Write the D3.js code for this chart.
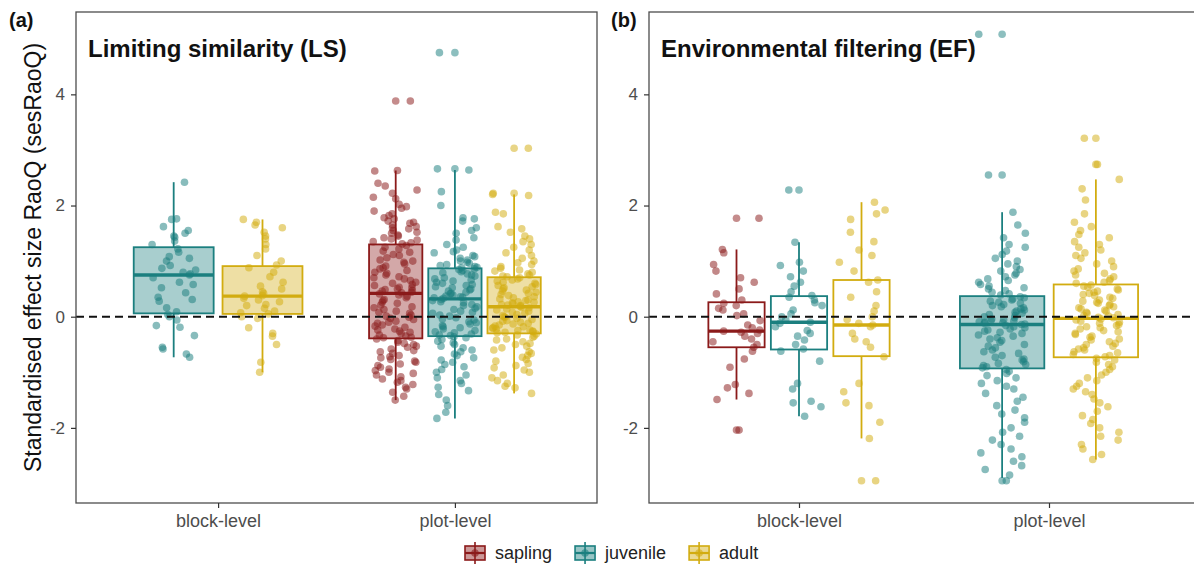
<!DOCTYPE html>
<html><head><meta charset="utf-8">
<script src="https://cdn.jsdelivr.net/npm/d3@7"></script>
<style>body{margin:0;background:#fff}svg{display:block;font-family:"Liberation Sans",Arial,sans-serif}</style>
</head><body><svg id="chart" width="1194" height="569"></svg>
<script>
// ---------------- data ----------------
const categories = ["block-level", "plot-level"];
const stages = ["sapling", "juvenile", "adult"];
const panelTitles = ["Limiting similarity (LS)", "Environmental filtering (EF)"];
const panelTags = ["(a)", "(b)"];
const yTicks = [-2, 0, 2, 4];
const yLabel = "Standardised effect size RaoQ (sesRaoQ)";

// Limiting similarity (LS)
const lsBlockJuvenile = [2.42, 1.76, 1.75, 1.62, 1.55, 1.5, 1.45, 1.43, 1.36, 1.3, 1.22, 1.16, 1.08, 1.05, 1.0, 0.92, 0.87, 0.84, 0.8, 0.77, 0.75, 0.7, 0.62, 0.58, 0.52, 0.43, 0.35, 0.31, 0.28, 0.16, 0.09, 0.04, 0.0, -0.06, -0.16, -0.19, -0.34, -0.55, -0.58, -0.67, -0.73];
const lsBlockAdult = [1.75, 1.7, 1.65, 1.6, 1.52, 1.45, 1.4, 1.3, 1.22, 1.1, 1.0, 0.93, 0.88, 0.8, 0.72, 0.62, 0.55, 0.5, 0.45, 0.42, 0.38, 0.37, 0.33, 0.3, 0.27, 0.22, 0.2, 0.15, 0.1, 0.07, 0.05, 0.0, -0.03, -0.2, -0.3, -0.35, -0.5, -0.82, -1.0];
const lsPlotSapling = [3.88, 2.63, 2.62, 2.4, 2.35, 2.28, 2.22, 2.15, 2.12, 2.02, 1.98, 1.95, 1.9, 1.85, 1.82, 1.78, 1.76, 1.72, 1.7, 1.68, 1.65, 1.62, 1.6, 1.58, 1.55, 1.52, 1.5, 1.47, 1.45, 1.42, 1.4, 1.38, 1.35, 1.33, 1.31,
  1.28, 1.25, 1.22, 1.18, 1.16, 1.12, 1.1, 1.06, 1.02, 1.0, 0.98, 0.95, 0.91, 0.88, 0.86, 0.83, 0.8, 0.78, 0.75, 0.72, 0.7, 0.68, 0.65, 0.62, 0.6, 0.58, 0.56, 0.53, 0.52, 0.5, 0.49, 0.47, 0.46, 0.44, 0.43,
  0.41, 0.39, 0.37, 0.34, 0.31, 0.29, 0.26, 0.24, 0.21, 0.18, 0.16, 0.13, 0.1, 0.08, 0.06, 0.03, 0.01, -0.01, -0.03, -0.05, -0.08, -0.1, -0.12, -0.15, -0.17, -0.19, -0.22, -0.24, -0.26, -0.28, -0.3, -0.33, -0.35, -0.37, -0.38,
  -0.4, -0.43, -0.46, -0.48, -0.5, -0.53, -0.55, -0.58, -0.61, -0.63, -0.66, -0.7, -0.72, -0.74, -0.77, -0.8, -0.82, -0.85, -0.88, -0.91, -0.94, -0.97, -1.0, -1.02, -1.05, -1.08, -1.12, -1.15, -1.18, -1.22, -1.27, -1.3, -1.36, -1.43, -1.5];
const lsPlotJuvenile = [4.75, 2.66, 2.64, 2.25, 2.0, 1.78, 1.76, 1.72, 1.6, 1.55, 1.5, 1.42, 1.38, 1.3, 1.25, 1.2, 1.17, 1.15, 1.1, 1.08, 1.05, 1.02, 1.0, 0.98, 0.96, 0.94, 0.92, 0.9, 0.89, 0.88,
  0.86, 0.85, 0.83, 0.81, 0.79, 0.77, 0.75, 0.73, 0.7, 0.68, 0.66, 0.64, 0.62, 0.6, 0.58, 0.56, 0.54, 0.52, 0.5, 0.48, 0.46, 0.44, 0.42, 0.41, 0.39, 0.37, 0.36, 0.35, 0.34, 0.33,
  0.31, 0.29, 0.27, 0.25, 0.22, 0.2, 0.18, 0.15, 0.13, 0.1, 0.08, 0.06, 0.03, 0.01, -0.02, -0.04, -0.06, -0.09, -0.11, -0.13, -0.16, -0.18, -0.2, -0.22, -0.25, -0.27, -0.29, -0.31, -0.33, -0.34,
  -0.36, -0.38, -0.41, -0.44, -0.47, -0.5, -0.53, -0.56, -0.6, -0.63, -0.67, -0.7, -0.74, -0.78, -0.82, -0.86, -0.9, -0.95, -1.0, -1.05, -1.1, -1.15, -1.2, -1.27, -1.33, -1.4, -1.5, -1.6, -1.72, -1.83];
const lsPlotAdult = [3.03, 2.22, 2.2, 2.18, 1.88, 1.85, 1.62, 1.58, 1.52, 1.45, 1.4, 1.35, 1.3, 1.25, 1.2, 1.15, 1.1, 1.05, 1.0, 0.97, 0.94, 0.9, 0.87, 0.84, 0.82, 0.8, 0.77, 0.75, 0.73, 0.72,
  0.7, 0.68, 0.66, 0.64, 0.62, 0.6, 0.58, 0.56, 0.54, 0.52, 0.5, 0.48, 0.46, 0.44, 0.42, 0.4, 0.38, 0.36, 0.34, 0.32, 0.3, 0.29, 0.27, 0.26, 0.25, 0.23, 0.22, 0.21, 0.2, 0.19,
  0.17, 0.16, 0.14, 0.12, 0.1, 0.08, 0.06, 0.04, 0.02, 0.0, -0.01, -0.03, -0.05, -0.07, -0.08, -0.1, -0.12, -0.13, -0.15, -0.17, -0.18, -0.2, -0.21, -0.22, -0.24, -0.25, -0.26, -0.27, -0.28, -0.29,
  -0.31, -0.33, -0.35, -0.37, -0.4, -0.42, -0.45, -0.48, -0.5, -0.53, -0.56, -0.6, -0.63, -0.66, -0.7, -0.73, -0.77, -0.8, -0.84, -0.88, -0.92, -0.96, -1.0, -1.05, -1.1, -1.15, -1.2, -1.25, -1.28, -1.38];

// Environmental filtering (EF)
const efBlockSapling = [1.77, 1.21, 1.15, 0.94, 0.82, 0.7, 0.62, 0.5, 0.41, 0.3, 0.24, 0.2, 0.15, 0.12, 0.05, 0.02, -0.07, -0.15, -0.2, -0.24, -0.26, -0.28, -0.3, -0.35, -0.4, -0.45, -0.5, -0.55, -0.62, -0.76, -0.91, -1.22, -1.28, -1.38, -1.49, -2.04];
const efBlockJuvenile = [2.28, 1.34, 0.98, 0.92, 0.82, 0.72, 0.62, 0.55, 0.45, 0.38, 0.35, 0.3, 0.25, 0.2, 0.12, 0.05, 0.0, -0.05, -0.1, -0.12, -0.18, -0.25, -0.3, -0.35, -0.42, -0.5, -0.58, -0.62, -0.8, -1.2, -1.3, -1.52, -1.55, -1.62, -1.79];
const efBlockAdult = [2.06, 1.92, 1.85, 1.75, 1.52, 1.35, 1.2, 1.1, 0.98, 0.82, 0.66, 0.62, 0.45, 0.35, 0.2, 0.1, 0.0, -0.05, -0.12, -0.15, -0.18, -0.3, -0.4, -0.45, -0.55, -0.72, -1.2, -1.35, -1.55, -1.6, -1.9, -2.19, -2.95];
const efPlotJuvenile = [5.08, 2.55, 1.88, 1.65, 1.5, 1.42, 1.3, 1.25, 1.18, 1.12, 1.05, 1.0, 0.95, 0.9, 0.85, 0.82, 0.78, 0.75, 0.72, 0.68, 0.65, 0.62, 0.58, 0.55, 0.52, 0.5, 0.47, 0.44, 0.41, 0.39,
  0.36, 0.34, 0.32, 0.3, 0.28, 0.26, 0.24, 0.22, 0.2, 0.18, 0.16, 0.14, 0.12, 0.1, 0.08, 0.06, 0.04, 0.02, 0.0, -0.02, -0.04, -0.05, -0.07, -0.08, -0.09, -0.1, -0.11, -0.12, -0.13, -0.14,
  -0.16, -0.18, -0.2, -0.22, -0.24, -0.26, -0.28, -0.3, -0.33, -0.35, -0.38, -0.4, -0.43, -0.46, -0.5, -0.53, -0.56, -0.6, -0.63, -0.66, -0.7, -0.73, -0.76, -0.78, -0.81, -0.84, -0.86, -0.88, -0.9, -0.92,
  -0.95, -0.98, -1.02, -1.06, -1.1, -1.15, -1.2, -1.25, -1.3, -1.38, -1.45, -1.52, -1.6, -1.68, -1.75, -1.82, -1.9, -2.0, -2.08, -2.15, -2.22, -2.3, -2.38, -2.45, -2.52, -2.6, -2.68, -2.75, -2.85, -2.95];
const efPlotAdult = [3.21, 2.74, 2.47, 2.3, 2.1, 1.85, 1.7, 1.62, 1.55, 1.48, 1.42, 1.35, 1.3, 1.25, 1.2, 1.15, 1.1, 1.05, 1.0, 0.95, 0.9, 0.86, 0.82, 0.78, 0.75, 0.72, 0.68, 0.65, 0.62, 0.6,
  0.57, 0.55, 0.53, 0.5, 0.48, 0.46, 0.44, 0.42, 0.4, 0.38, 0.35, 0.33, 0.3, 0.28, 0.26, 0.24, 0.22, 0.2, 0.18, 0.16, 0.14, 0.12, 0.1, 0.08, 0.06, 0.04, 0.02, 0.01, -0.01, -0.02,
  -0.04, -0.06, -0.08, -0.1, -0.12, -0.14, -0.16, -0.18, -0.2, -0.22, -0.25, -0.27, -0.3, -0.32, -0.35, -0.37, -0.4, -0.42, -0.45, -0.48, -0.5, -0.53, -0.56, -0.58, -0.6, -0.63, -0.65, -0.68, -0.7, -0.72,
  -0.75, -0.78, -0.82, -0.86, -0.9, -0.95, -1.0, -1.05, -1.1, -1.15, -1.2, -1.25, -1.3, -1.35, -1.4, -1.48, -1.55, -1.62, -1.7, -1.78, -1.85, -1.92, -2.0, -2.08, -2.15, -2.22, -2.3, -2.38, -2.48, -2.57];

// box statistics: [lower whisker, Q1, median, Q3, upper whisker]
const lsBlockJuvenileBox = [-0.73, 0.06, 0.75, 1.25, 2.42];
const lsBlockAdultBox = [-1.0, 0.05, 0.37, 0.91, 1.75];
const lsPlotSaplingBox = [-1.5, -0.39, 0.42, 1.3, 2.63];
const lsPlotJuvenileBox = [-1.83, -0.35, 0.32, 0.87, 2.64];
const lsPlotAdultBox = [-1.38, -0.3, 0.18, 0.71, 2.2];
const efBlockSaplingBox = [-1.49, -0.55, -0.26, 0.26, 1.21];
const efBlockJuvenileBox = [-1.79, -0.59, -0.1, 0.37, 1.34];
const efBlockAdultBox = [-2.19, -0.71, -0.15, 0.66, 2.06];
const efPlotJuvenileBox = [-2.9, -0.93, -0.14, 0.37, 1.88];
const efPlotAdultBox = [-2.57, -0.73, -0.03, 0.58, 2.47];

// which boxes are shaded
const lsFilled = [true, true, true, true, true];
const efFilled = [false, false, false, true, false];

// ---------------- styling & layout ----------------
const colors = {sapling: "#8b1a1a", juvenile: "#1b7f7f", adult: "#d2ac10"};
const panelBoxes = [{l: 76, r: 597}, {l: 649, r: 1199}];
const pTop = 12, pBottom = 503;

const groups = [
  {panel: 0, cat: "block-level", stage: "juvenile", values: lsBlockJuvenile, box: lsBlockJuvenileBox, filled: lsFilled[0]},
  {panel: 0, cat: "block-level", stage: "adult", values: lsBlockAdult, box: lsBlockAdultBox, filled: lsFilled[1]},
  {panel: 0, cat: "plot-level", stage: "sapling", values: lsPlotSapling, box: lsPlotSaplingBox, filled: lsFilled[2]},
  {panel: 0, cat: "plot-level", stage: "juvenile", values: lsPlotJuvenile, box: lsPlotJuvenileBox, filled: lsFilled[3]},
  {panel: 0, cat: "plot-level", stage: "adult", values: lsPlotAdult, box: lsPlotAdultBox, filled: lsFilled[4]},
  {panel: 1, cat: "block-level", stage: "sapling", values: efBlockSapling, box: efBlockSaplingBox, filled: efFilled[0]},
  {panel: 1, cat: "block-level", stage: "juvenile", values: efBlockJuvenile, box: efBlockJuvenileBox, filled: efFilled[1]},
  {panel: 1, cat: "block-level", stage: "adult", values: efBlockAdult, box: efBlockAdultBox, filled: efFilled[2]},
  {panel: 1, cat: "plot-level", stage: "juvenile", values: efPlotJuvenile, box: efPlotJuvenileBox, filled: efFilled[3]},
  {panel: 1, cat: "plot-level", stage: "adult", values: efPlotAdult, box: efPlotAdultBox, filled: efFilled[4]},
];

const svg = d3.select("#chart");
const allVals = groups.flatMap(g => g.values);
const [mn, mx] = d3.extent(allVals);
const pad = (mx - mn) * 0.05;
const y = d3.scaleLinear().domain([mn - pad, mx + pad]).range([pBottom, pTop]);

const tickColor = "#4d4d4d";
// deterministic scatter in [0,1) for horizontal jitter
const hash01 = (i, s) => { const v = Math.sin(i * 12.9898 + s * 78.233) * 43758.5453; return v - Math.floor(v); };

panelBoxes.forEach((pb, pi) => {
  const x = d3.scalePoint().domain(categories).range([pb.l, pb.r]).padding(0.6);
  const step = x.step();
  const clipId = "clip" + pi;
  svg.append("clipPath").attr("id", clipId).append("rect")
    .attr("x", pb.l).attr("y", pTop).attr("width", pb.r - pb.l).attr("height", pBottom - pTop);
  const g = svg.append("g");
  const plot = g.append("g").attr("clip-path", `url(#${clipId})`);

  const pgroups = groups.filter(d => d.panel === pi);
  categories.forEach((cat, ci) => {
    const cg = pgroups.filter(d => d.cat === cat)
      .sort((a, b) => stages.indexOf(a.stage) - stages.indexOf(b.stage));
    const n = cg.length;
    const slot = 0.75 / n;
    cg.forEach((grp, k) => {
      const cx = x(cat) + (-0.375 + slot * (k + 0.5)) * step;
      const bw = slot * 0.9 * step;
      const col = colors[grp.stage];
      const [lo, q1, med, q3, hi] = grp.box;
      plot.append("line").attr("x1", cx).attr("x2", cx).attr("y1", y(q3)).attr("y2", y(hi))
        .attr("stroke", col).attr("stroke-width", 1.8);
      plot.append("line").attr("x1", cx).attr("x2", cx).attr("y1", y(q1)).attr("y2", y(lo))
        .attr("stroke", col).attr("stroke-width", 1.8);
      plot.append("rect").attr("x", cx - bw / 2).attr("width", bw)
        .attr("y", y(q3)).attr("height", y(q1) - y(q3))
        .attr("fill", grp.filled ? col : "none").attr("fill-opacity", 0.38)
        .attr("stroke", col).attr("stroke-width", 1.8);
      plot.append("line").attr("x1", cx - bw / 2).attr("x2", cx + bw / 2)
        .attr("y1", y(med)).attr("y2", y(med)).attr("stroke", col).attr("stroke-width", 3.4);
      const outs = grp.values.filter(v => v > hi || v < lo);
      plot.selectAll(null).data(outs).enter().append("circle")
        .attr("cx", cx).attr("cy", v => y(v)).attr("r", 3.8)
        .attr("fill", col).attr("fill-opacity", 0.5);
      const jw = 0.095 * step;
      const seed = pi * 7 + ci * 3 + k + 1;
      plot.selectAll(null).data(grp.values).enter().append("circle")
        .attr("cx", (v, i) => cx + (hash01(i + 1, seed) - 0.5) * 2 * jw)
        .attr("cy", v => y(v)).attr("r", 3.8)
        .attr("fill", col).attr("fill-opacity", 0.52);
    });
  });

  plot.append("line").attr("x1", pb.l).attr("x2", pb.r).attr("y1", y(0)).attr("y2", y(0))
    .attr("stroke", "#111").attr("stroke-width", 2).attr("stroke-dasharray", "8,5");

  g.append("rect").attr("x", pb.l).attr("y", pTop).attr("width", pb.r - pb.l).attr("height", pBottom - pTop)
    .attr("fill", "none").attr("stroke", "#4d4d4d").attr("stroke-width", 1.3);

  const ya = g.append("g").attr("transform", `translate(${pb.l},0)`)
    .call(d3.axisLeft(y).tickValues(yTicks).tickSize(5).tickPadding(6).tickFormat(d => String(d)));
  ya.select(".domain").remove();
  ya.selectAll(".tick line").attr("stroke", "#333").attr("stroke-width", 1.2);
  ya.selectAll(".tick text").attr("fill", tickColor).style("font-size", "17px").style("font-family", "Liberation Sans, Arial, sans-serif");

  const xa = g.append("g").attr("transform", `translate(0,${pBottom})`)
    .call(d3.axisBottom(x).tickSize(5).tickPadding(6));
  xa.select(".domain").remove();
  xa.selectAll(".tick line").attr("stroke", "#333").attr("stroke-width", 1.2);
  xa.selectAll(".tick text").attr("fill", tickColor).style("font-size", "18px").style("font-family", "Liberation Sans, Arial, sans-serif");

  g.append("text").attr("x", pb.l + 12).attr("y", 57).text(panelTitles[pi])
    .style("font-size", "24px").style("font-weight", "bold").attr("fill", "#111");
  g.append("text").attr("x", pi === 0 ? 9 : 611).attr("y", 27).text(panelTags[pi])
    .style("font-size", "20px").style("font-weight", "bold").attr("fill", "#111");
});

svg.append("text").attr("transform", `translate(41,${(pTop + pBottom) / 2}) rotate(-90)`)
  .attr("text-anchor", "middle").text(yLabel).style("font-size", "23px").attr("fill", "#111");

const legend = svg.append("g").attr("transform", "translate(463,553)");
let lx = 0;
stages.forEach(s => {
  const col = colors[s];
  const kg = legend.append("g").attr("transform", `translate(${lx},0)`);
  kg.append("line").attr("x1", 12).attr("x2", 12).attr("y1", -11).attr("y2", 11).attr("stroke", col).attr("stroke-width", 1.6);
  kg.append("rect").attr("x", 2).attr("y", -7).attr("width", 20).attr("height", 14)
    .attr("fill", col).attr("fill-opacity", 0.45).attr("stroke", col).attr("stroke-width", 1.6);
  kg.append("line").attr("x1", 2).attr("x2", 22).attr("y1", 0).attr("y2", 0).attr("stroke", col).attr("stroke-width", 2.2);
  kg.append("circle").attr("cx", 12).attr("cy", 0).attr("r", 3.8).attr("fill", col).attr("fill-opacity", 0.6);
  const t = kg.append("text").attr("x", 32).attr("y", 6).text(s).style("font-size", "18px").attr("fill", "#222");
  lx += 32 + t.node().getComputedTextLength() + 21;
});
</script></body></html>
